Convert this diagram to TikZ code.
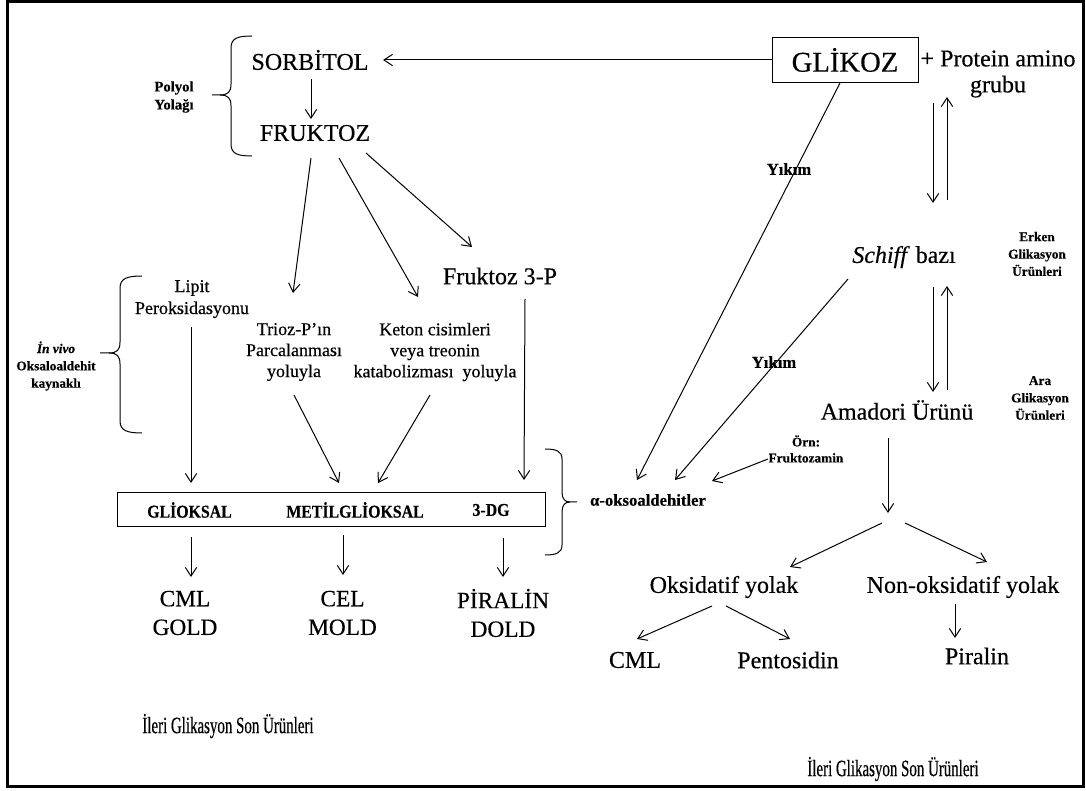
\documentclass[tikz,border=0pt]{standalone}
\usepackage{fontspec}
\setmainfont{Liberation Serif}[FakeBold=0.4]
\newfontfamily\condserif{Liberation Serif}[FakeStretch=0.64,FakeBold=0.4]
\newfontfamily\condbox{Liberation Serif}[FakeStretch=0.88,FakeBold=0.4]
\usetikzlibrary{arrows.meta,calc}
\begin{document}
\begin{tikzpicture}[x=0.75pt,y=-0.75pt,
  every node/.style={inner sep=0pt, align=center},
  lbl18/.style={font=\fontsize{18}{20}\selectfont},
  medtxt/.style={font=\fontsize{13.5}{15.75}\selectfont},
  note/.style={font=\bfseries\fontsize{10}{13}\selectfont},
  yik/.style={font=\bfseries\fontsize{12.5}{14}\selectfont},
  dicarbtxt/.style={font=\condbox\bfseries\fontsize{13.5}{15}\selectfont},
  endprod/.style={font=\fontsize{17.5}{21.5}\selectfont},
  ileri/.style={font=\condserif\fontsize{17.5}{19}\selectfont},
  arr/.style={-{Straight Barb[length=6.5pt,width=8.5pt]}, line width=0.75pt},
  curly/.style={line width=0.75pt},
  boxed/.style={draw, line width=0.75pt},
]
\useasboundingbox (0,0) rectangle (1086,791);
% outer frame
\draw[line width=2.25pt] (7.5,1.5) rectangle (1083,786.5);

% polyol pathway
\node[lbl18] (sorb) at (310,60) {SORBİTOL};
\node[lbl18] (fruk) at (315,133) {FRUKTOZ};
\node[font=\bfseries\fontsize{11}{13.5}\selectfont] (polyol) at (174,97) {Polyol\\Yolağı};
\draw[curly] (252,36) .. controls (238,36) and (231,38) .. (231,48) -- (231,84) .. controls (231,92) and (228,95) .. (220,95) -- (212,95);
\draw[curly] (220,95) .. controls (228,95) and (231,98) .. (231,106) -- (231,144) .. controls (231,154) and (238,156) .. (252,156);

% glucose and protein
\node[boxed, minimum width=109.5pt, minimum height=33.75pt, font=\fontsize{21.5}{24}\selectfont] (glik) at (845,60) {GLİKOZ};
\node[font=\fontsize{18}{19.5}\selectfont] (prot) at (998,74) {+ Protein amino\\grubu};
\node[yik] (yik1) at (789,169) {Yıkım};

% early and intermediate glycation
\node[lbl18] (schiff) at (904,257) {\textit{Schiff} bazı};
\node[note] (erken) at (1037,254) {Erken\\Glikasyon\\Ürünleri};
\node[lbl18] (amadori) at (897,410) {Amadori Ürünü};
\node[note] (ara) at (1040,398) {Ara\\Glikasyon\\Ürünleri};
\node[yik] (yik2) at (774,362) {Yıkım};
\node[font=\bfseries\fontsize{10}{12}\selectfont] (orn) at (806,449) {Örn:\\Fruktozamin};
\node[font=\bfseries\fontsize{12.5}{14}\selectfont] (alpha) at (648,500) {α-oksoaldehitler};

% in vivo sources
\node[font=\fontsize{13.5}{16.5}\selectfont] (lipit) at (192,299) {Lipit\\Peroksidasyonu};
\node[note] (invivo) at (56,366) {\textit{İn vivo}\\Oksaloaldehit\\kaynaklı};
\draw[curly] (142,276) .. controls (128,276) and (120,278) .. (120,288) -- (120,342) .. controls (120,350) and (117,353) .. (109,353) -- (100,353);
\draw[curly] (109,353) .. controls (117,353) and (120,356) .. (120,364) -- (120,421) .. controls (120,431) and (128,433) .. (142,433);
\node[medtxt] (trioz) at (294,352) {Trioz-P’ın\\Parcalanması\\yoluyla};
\node[medtxt] (keton) at (435,352) {Keton cisimleri\\veya treonin\\katabolizması~ yoluyla};
\node[lbl18] (f3p) at (500,276) {Fruktoz 3-P};

% dicarbonyl box
\node[boxed, minimum width=321pt, minimum height=25.5pt] (dicarb) at (331,510) {};
\node[dicarbtxt] (gliok) at (189.5,510) {GLİOKSAL};
\node[dicarbtxt] (metil) at (355,510) {METİLGLİOKSAL};
\node[dicarbtxt] (dg) at (491,510) {3-DG};
\draw[curly] (545,449) .. controls (556,449) and (562,451) .. (562,459) -- (562,492) .. controls (562,499) and (565,502) .. (570,502) -- (577,502);
\draw[curly] (570,502) .. controls (565,502) and (562,505) .. (562,512) -- (562,545) .. controls (562,553) and (556,555) .. (545,555);

% end products, left
\node[endprod] (cml1) at (185,613) {CML\\GOLD};
\node[endprod] (cel) at (342.5,613) {CEL\\MOLD};
\node[endprod] (pir1) at (503,613) {PİRALİN\\DOLD};
\node[ileri] (ileri1) at (228,726) {İleri Glikasyon Son Ürünleri};

% end products, right
\node[lbl18] (oks) at (724,587) {Oksidatif yolak};
\node[lbl18] (nonoks) at (963,587) {Non-oksidatif yolak};
\node[lbl18] (cml2) at (635,660) {CML};
\node[lbl18] (pento) at (788,660) {Pentosidin};
\node[lbl18] (pir2) at (977,656) {Piralin};
\node[ileri] (ileri2) at (893,769) {İleri Glikasyon Son Ürünleri};

% connectors
\draw[arr] (glik.west) -- ($(sorb)+(73,0)$);
\draw[arr] ($(sorb)+(1,19)$) -- ($(fruk)+(-4,-14)$);
\draw[arr] ($(fruk)+(-4,25)$) -- ($(trioz)+(-1,-59)$);
\draw[arr] ($(fruk)+(24,25)$) -- ($(keton)+(-17,-55)$);
\draw[arr] ($(fruk)+(51,20)$) -- ($(f3p)+(-28,-29)$);
\draw[arr] ($(glik.south)+(-5,0)$) -- ($(alpha)+(-11,-20)$);
\draw[arr] ($(schiff)+(-56,22)$) -- ($(alpha)+(27,-20)$);
\draw[arr] ($(orn)+(-38,10)$) -- ($(alpha)+(64,-19)$);
\draw[arr] ($(prot)+(-65,29)$) -- ($(schiff)+(29,-54)$);
\draw[arr] ($(schiff)+(43,-57)$) -- ($(prot)+(-51,23)$);
\draw[arr] ($(schiff)+(29,30)$) -- ($(amadori)+(36,-18)$);
\draw[arr] ($(amadori)+(50,-20)$) -- ($(schiff)+(43,29)$);
\draw[arr] ($(amadori)+(-9,28)$) -- ($(amadori)+(-9,103)$);
\draw[arr] ($(oks)+(158,-64)$) -- ($(oks)+(66,-20)$);
\draw[arr] ($(nonoks)+(-58,-64)$) -- ($(nonoks)+(24,-25)$);
\draw[arr] ($(oks)+(-12,19)$) -- ($(cml2)+(2,-21)$);
\draw[arr] ($(oks)+(2,19)$) -- ($(pento)+(2,-21)$);
\draw[arr] ($(nonoks)+(-8,17)$) -- ($(pir2)+(-22,-18)$);
\draw[arr] ($(lipit)+(-1,28)$) -- ($(gliok)+(1.5,-27)$);
\draw[arr] ($(trioz)+(0,43)$) -- ($(metil)+(-16,-27)$);
\draw[arr] ($(keton)+(-5,43)$) -- ($(metil)+(23,-27)$);
\draw[arr] ($(f3p)+(25,23)$) -- ($(dg)+(33,-30)$);
\draw[arr] ($(gliok)+(1.5,27)$) -- ($(cml1)+(6,-36)$);
\draw[arr] ($(metil)+(-12,25)$) -- ($(cel)+(0.5,-38)$);
\draw[arr] ($(dg)+(12,28)$) -- ($(pir1)+(0,-36)$);
\end{tikzpicture}
\end{document}
